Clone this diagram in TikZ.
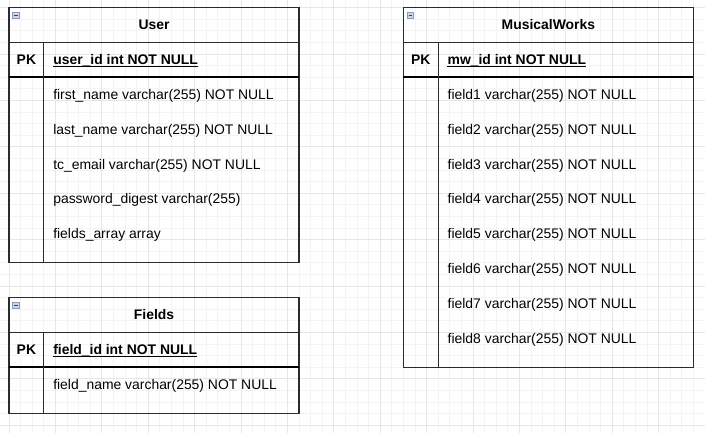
\documentclass[tikz,border=0pt]{standalone}
\usepackage{fontspec}
\setmainfont{Liberation Sans}
\usetikzlibrary{calc}
\definecolor{gridminor}{HTML}{F4F4F4}
\definecolor{gridmajor}{HTML}{E6E6E6}
\definecolor{tblline}{HTML}{2B2B2B}
\definecolor{iconfill}{HTML}{CCD6E6}
\definecolor{iconline}{HTML}{8A9BB8}
\newcommand\dfont{\fontsize{13.92pt}{16pt}\selectfont}
\begin{document}
\begin{tikzpicture}[x=1.16pt,y=-1.16pt,
  tbl/.style={draw=tblline, line width=1.1pt},
  pkline/.style={draw=black, line width=1.5pt},
  rowtext/.style={anchor=base west, inner sep=0pt, font=\dfont},
  pktext/.style={anchor=base, inner sep=0pt, font=\dfont\bfseries},
  pkfield/.style={anchor=base west, inner sep=0pt, font=\dfont\bfseries},
  titletext/.style={anchor=base, inner sep=0pt, font=\dfont\bfseries},
  ulinestyle/.style={draw=black, line width=0.9pt},
  iconbox/.style={draw=iconline, fill=iconfill, line width=0.7pt},
  iconbar/.style={draw=black!75, line width=1pt}]
\useasboundingbox (-7.76,-6.47) rectangle (600,366.8);
% grid
\begin{scope}
\clip (-7.76,-6.47) rectangle (600,366.8);
\foreach \x in {-10,0,...,600} \draw[gridminor, line width=0.8pt] (\x,-10) -- (\x,370);
\foreach \y in {-10,0,...,370} \draw[gridminor, line width=0.8pt] (-10,\y) -- (610,\y);
\foreach \x in {0,40,...,600} \draw[gridmajor, line width=0.8pt] (\x,-10) -- (\x,370);
\foreach \y in {0,40,...,360} \draw[gridmajor, line width=0.8pt] (-10,\y) -- (610,\y);
\end{scope}

% ---------- User ----------
\draw[tbl] (0,0) rectangle (250,220);
\draw[tbl] (0,30) -- (250,30);
\draw[pkline] (0,60) -- (250,60);
\draw[tbl] (30,30) -- (30,220);
\draw[iconbox] (3.3,3.8) rectangle (8.8,9.3);
\draw[iconbar] (4.5,6.55) -- (7.6,6.55);
\node[titletext] (utitle) at (125,19.3) {User};
\node[pktext] (upkl) at (15,49.3) {PK};
\node[pkfield] (upk) at (38,49.3) {user\_id int NOT NULL};
\draw[ulinestyle] ($(upk.base west)+(0,1.2)$) -- ($(upk.base east)+(0,1.2)$);
\node[rowtext] (u1) at (38,79.3) {first\_name varchar(255) NOT NULL};
\node[rowtext] (u2) at (38,109.3) {last\_name varchar(255) NOT NULL};
\node[rowtext] (u3) at (38,139.3) {tc\_email varchar(255) NOT NULL};
\node[rowtext] (u4) at (38,169.3) {password\_digest varchar(255)};
\node[rowtext] (u5) at (38,199.3) {fields\_array array};

% ---------- Fields ----------
\draw[tbl] (0,250) rectangle (250,350);
\draw[tbl] (0,280) -- (250,280);
\draw[pkline] (0,310) -- (250,310);
\draw[tbl] (30,280) -- (30,350);
\draw[iconbox] (3.3,253.8) rectangle (8.8,259.3);
\draw[iconbar] (4.5,256.55) -- (7.6,256.55);
\node[titletext] (ftitle) at (125,269.3) {Fields};
\node[pktext] (fpkl) at (15,299.3) {PK};
\node[pkfield] (fpk) at (38,299.3) {field\_id int NOT NULL};
\draw[ulinestyle] ($(fpk.base west)+(0,1.2)$) -- ($(fpk.base east)+(0,1.2)$);
\node[rowtext] (f1) at (38,329.3) {field\_name varchar(255) NOT NULL};

% ---------- MusicalWorks ----------
\draw[tbl] (340,0) rectangle (590,310);
\draw[tbl] (340,30) -- (590,30);
\draw[pkline] (340,60) -- (590,60);
\draw[tbl] (370,30) -- (370,310);
\draw[iconbox] (343.3,3.8) rectangle (348.8,9.3);
\draw[iconbar] (344.5,6.55) -- (347.6,6.55);
\node[titletext] (mtitle) at (465,19.3) {MusicalWorks};
\node[pktext] (mpkl) at (355,49.3) {PK};
\node[pkfield] (mpk) at (378,49.3) {mw\_id int NOT NULL};
\draw[ulinestyle] ($(mpk.base west)+(0,1.2)$) -- ($(mpk.base east)+(0,1.2)$);
\foreach \i in {1,...,8} {
  \node[rowtext] (m\i) at (378,{49.3+30*\i}) {field\i{} varchar(255) NOT NULL};
}
\end{tikzpicture}
\end{document}
